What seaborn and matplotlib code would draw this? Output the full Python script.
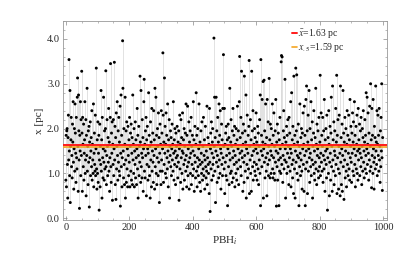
import numpy as np
import pandas as pd
import matplotlib
matplotlib.use("Agg")
import matplotlib.pyplot as plt
import seaborn as sns
from matplotlib.ticker import MultipleLocator


# DATA
# distance x [pc] for each PBH (rows of 50)
dist_pc = [
    0.85, 1.85, 0.70, 1.95, 2.00, 1.20, 0.45, 1.80, 2.30, 1.30, 3.54, 1.50, 0.95, 2.85, 0.35, 1.60, 1.75, 2.25, 1.15, 1.40, 0.90, 2.10, 1.70, 2.60, 1.25, 0.65, 1.55, 2.00, 1.05, 2.55, 1.90, 1.45, 0.80, 2.25, 1.35, 1.10, 2.70, 3.13, 1.60, 0.60, 2.75, 1.95, 1.30, 0.22, 1.85, 1.50, 2.60, 0.95, 2.20, 1.40,
    3.28, 1.90, 0.60, 2.25, 1.65, 1.15, 2.10, 0.85, 1.45, 1.75, 2.60, 1.00, 1.30, 2.20, 0.50, 1.85, 1.40, 2.90, 1.05, 1.60, 0.75, 1.95, 1.25, 2.05, 0.25, 1.70, 1.35, 2.15, 0.95, 1.50, 1.80, 1.15, 2.40, 0.85, 1.65, 1.30, 1.00, 2.55, 0.70, 1.45, 1.90, 1.20, 1.05, 2.30, 0.95, 1.55, 3.35, 1.10, 0.65, 1.75,
    1.00, 2.15, 0.80, 1.45, 1.85, 0.18, 1.30, 2.10, 0.70, 1.60, 1.20, 2.85, 1.05, 1.75, 0.45, 2.25, 1.35, 0.90, 1.55, 2.70, 1.25, 0.85, 1.95, 1.10, 1.50, 2.00, 3.29, 1.15, 0.75, 1.40, 2.20, 1.60, 0.95, 1.80, 1.25, 2.45, 1.05, 1.70, 0.60, 1.35, 2.25, 3.45, 1.15, 0.80, 1.90, 1.45, 2.15, 0.40, 1.65, 1.20,
    2.20, 0.95, 1.55, 3.48, 1.30, 2.05, 0.75, 1.80, 0.42, 2.35, 1.10, 1.60, 2.60, 1.40, 0.85, 1.95, 1.25, 2.25, 1.05, 1.70, 0.95, 2.50, 0.27, 1.45, 2.75, 1.15, 1.85, 0.70, 1.35, 3.96, 2.90, 1.50, 0.90, 2.00, 1.20, 0.75, 1.65, 2.70, 0.45, 1.30, 1.95, 0.80, 2.15, 1.10, 1.55, 0.70, 2.05, 1.40, 0.95, 1.75,
    1.25, 2.25, 0.70, 1.60, 1.90, 1.05, 2.10, 0.85, 1.45, 1.80, 0.75, 2.75, 1.30, 1.65, 1.00, 2.00, 0.70, 1.50, 1.20, 2.15, 0.90, 1.75, 1.35, 0.75, 1.55, 2.45, 1.10, 1.85, 0.45, 1.40, 2.05, 0.95, 1.60, 1.25, 3.17, 1.70, 0.80, 2.85, 1.15, 1.45, 0.90, 2.20, 1.35, 1.80, 0.60, 1.55, 2.60, 3.10, 1.05, 1.65,
    0.90, 1.95, 1.40, 2.25, 0.50, 1.75, 1.20, 2.05, 1.55, 0.85, 1.45, 2.80, 1.15, 1.85, 0.95, 1.60, 0.45, 2.15, 1.30, 1.70, 0.70, 2.45, 1.05, 1.50, 1.90, 1.25, 0.80, 2.40, 1.40, 1.75, 0.65, 2.90, 1.15, 1.55, 2.70, 1.00, 1.85, 0.75, 1.35, 2.00, 1.60, 0.95, 2.35, 1.25, 1.80, 0.35, 1.45, 2.10, 1.05, 1.65,
    0.75, 2.40, 1.30, 1.90, 1.05, 1.55, 3.69, 2.30, 0.80, 1.70, 1.20, 3.13, 1.45, 2.05, 1.00, 1.65, 2.35, 0.90, 1.85, 1.35, 1.10, 2.55, 1.50, 0.70, 1.75, 1.25, 2.20, 0.45, 1.60, 1.40, 1.95, 1.15, 1.80, 0.95, 1.55, 2.10, 1.30, 1.65, 1.05, 2.60, 1.45, 0.85, 1.75, 1.20, 2.00, 1.50, 0.75, 1.90, 1.35, 1.60,
    1.15, 2.05, 1.40, 0.90, 1.70, 1.25, 1.95, 0.40, 1.55, 2.30, 1.10, 1.65, 0.80, 2.20, 1.35, 1.80, 1.00, 1.50, 2.35, 0.65, 1.45, 1.75, 1.20, 2.00, 0.85, 1.60, 1.30, 1.90, 1.05, 2.55, 1.40, 0.70, 1.85, 1.15, 2.50, 0.95, 1.55, 1.25, 2.15, 0.65, 1.70, 1.35, 1.95, 1.00, 1.45, 2.25, 0.75, 1.60, 1.20, 1.85,
    0.95, 1.50, 2.60, 1.10, 1.75, 0.60, 1.40, 2.05, 1.25, 0.90, 1.65, 2.80, 1.05, 1.85, 0.70, 1.35, 2.00, 1.15, 0.95, 1.55, 2.55, 1.30, 0.80, 1.70, 1.20, 0.60, 1.95, 1.45, 1.00, 2.15, 1.25, 0.85, 1.60, 1.10, 2.25, 0.95, 1.40, 1.75, 0.65, 1.30, 2.05, 1.15, 0.90, 1.50, 1.05, 2.50, 0.75, 1.35, 1.80, 1.20,
    1.00, 1.65, 0.55, 2.45, 1.25, 0.15, 1.55, 1.90, 1.10, 2.15, 0.85, 1.45, 1.70, 2.00, 1.20, 0.95, 1.35, 4.02, 1.60, 2.70, 1.05, 1.80, 0.35, 1.50, 2.70, 1.25, 1.95, 0.80, 1.40, 2.25, 1.15, 1.70, 0.90, 2.55, 1.30, 1.85, 1.00, 2.40, 1.55, 0.65, 1.45, 2.10, 1.20, 1.75, 0.95, 2.45, 1.35, 3.65, 1.60, 1.10,
    2.45, 0.55, 1.65, 1.25, 1.90, 0.95, 2.05, 1.40, 0.85, 1.75, 0.28, 1.55, 2.10, 1.15, 1.80, 0.75, 1.45, 2.90, 1.30, 1.00, 1.70, 2.20, 1.05, 1.60, 0.80, 1.95, 1.35, 2.45, 0.90, 1.50, 1.85, 1.20, 2.05, 0.70, 1.40, 1.65, 1.00, 2.00, 1.25, 0.85, 1.75, 2.50, 1.10, 1.55, 1.95, 0.75, 1.30, 2.60, 3.61, 1.45,
    1.80, 1.15, 2.25, 0.95, 3.28, 1.50, 1.35, 1.90, 0.60, 1.65, 2.10, 1.25, 0.80, 3.17, 1.40, 1.95, 1.05, 1.70, 2.75, 0.45, 1.55, 1.20, 2.30, 0.90, 1.45, 1.85, 1.10, 2.05, 3.52, 0.55, 1.60, 1.30, 2.20, 1.00, 1.75, 0.60, 3.28, 1.40, 1.95, 1.15, 2.40, 0.85, 1.50, 1.65, 1.25, 2.00, 1.05, 1.80, 0.95, 1.55,
    2.35, 1.20, 1.70, 0.85, 1.45, 2.05, 1.10, 1.90, 0.75, 1.60, 1.30, 2.20, 1.00, 2.75, 0.28, 3.54, 1.50, 1.85, 1.15, 2.65, 1.40, 1.70, 3.05, 0.45, 1.55, 3.08, 1.25, 1.95, 0.90, 1.65, 2.55, 1.35, 1.05, 1.80, 0.50, 2.65, 1.45, 1.20, 2.15, 0.95, 1.60, 3.12, 1.30, 1.75, 0.90, 2.10, 1.50, 1.00, 2.00, 1.40,
    1.65, 2.55, 1.10, 0.90, 1.85, 1.35, 2.35, 1.00, 1.60, 0.85, 1.95, 1.25, 2.65, 1.50, 0.27, 1.70, 1.15, 2.10, 0.85, 1.45, 1.90, 1.30, 0.28, 1.75, 1.05, 2.25, 1.55, 1.35, 1.00, 3.49, 3.63, 1.20, 3.60, 1.65, 0.80, 1.40, 1.95, 2.40, 1.10, 1.80, 1.30, 3.10, 1.55, 0.45, 1.70, 1.25, 2.05, 1.00, 1.85, 1.45,
    2.20, 1.15, 1.60, 0.75, 2.25, 1.35, 1.90, 1.05, 1.55, 2.60, 0.70, 1.45, 2.80, 1.20, 1.75, 0.90, 2.05, 1.30, 0.55, 3.17, 1.65, 1.10, 1.85, 0.45, 1.50, 3.35, 1.25, 1.95, 3.20, 1.00, 1.40, 1.70, 0.85, 2.10, 1.35, 0.28, 1.60, 1.15, 2.55, 1.45, 0.95, 1.80, 1.30, 2.00, 1.05, 0.65, 1.90, 1.55, 2.35, 1.20,
    1.65, 0.60, 2.50, 1.40, 1.85, 0.28, 1.10, 2.65, 1.50, 2.95, 1.25, 1.95, 0.55, 1.70, 2.30, 1.05, 1.55, 2.85, 1.35, 0.80, 2.00, 1.45, 1.15, 2.60, 0.95, 1.75, 1.30, 2.15, 0.45, 1.60, 1.20, 1.90, 2.40, 1.00, 1.50, 0.85, 1.80, 1.25, 2.90, 1.10, 1.65, 0.75, 2.10, 1.40, 1.55, 1.95, 1.05, 0.90, 2.25, 1.35,
    1.15, 1.70, 3.19, 0.95, 1.45, 2.35, 1.25, 1.85, 1.05, 1.60, 2.25, 0.80, 1.40, 1.95, 1.10, 2.65, 1.30, 0.60, 1.75, 1.50, 2.00, 1.20, 0.90, 2.30, 1.55, 0.18, 1.35, 1.80, 1.00, 2.40, 1.65, 0.50, 1.25, 2.05, 1.45, 0.85, 1.90, 2.70, 1.15, 1.60, 0.60, 2.95, 1.30, 1.75, 1.05, 2.15, 0.75, 1.50, 1.95, 1.40,
    0.95, 2.45, 1.20, 1.70, 3.19, 0.55, 1.85, 1.35, 2.20, 1.10, 0.65, 1.60, 2.30, 1.00, 1.45, 0.50, 2.95, 1.25, 1.80, 0.75, 1.55, 2.10, 0.60, 1.40, 2.85, 1.15, 1.90, 0.42, 1.70, 1.30, 2.25, 0.90, 1.50, 2.00, 1.05, 0.70, 1.65, 2.40, 1.20, 1.85, 0.95, 1.45, 2.30, 1.10, 1.75, 0.85, 2.65, 1.35, 1.60, 2.05,
    1.25, 0.80, 1.90, 1.45, 2.35, 1.05, 1.70, 2.15, 0.95, 1.55, 2.60, 1.20, 1.85, 0.70, 1.40, 2.05, 1.10, 1.65, 2.30, 1.00, 1.50, 0.85, 2.45, 1.30, 1.75, 1.55, 2.10, 0.95, 1.45, 1.95, 1.15, 2.25, 1.35, 0.75, 1.60, 2.00, 1.05, 1.80, 2.40, 1.25, 1.50, 0.90, 1.70, 2.20, 1.10, 1.85, 1.40, 2.80, 1.00, 1.55,
    2.70, 1.20, 1.65, 2.35, 1.45, 0.85, 1.90, 1.30, 2.50, 1.05, 1.60, 3.00, 1.15, 1.75, 0.68, 2.45, 1.40, 1.85, 1.00, 2.65, 1.55, 1.25, 0.65, 2.05, 1.35, 1.80, 1.10, 2.95, 1.50, 1.70, 1.20, 2.40, 0.95, 1.65, 2.30, 1.40, 1.85, 1.05, 2.45, 1.30, 1.60, 0.80, 1.95, 1.15, 2.25, 1.50, 3.00, 1.35, 0.62, 1.80,
]
mean_pc = 1.63
median_pc = 1.59

df = pd.DataFrame({"pbh": np.arange(len(dist_pc)), "x": dist_pc})


# PLOT
sns.set_style("ticks")
plt.rcParams["font.family"] = ["Liberation Serif", "DejaVu Serif"]
plt.rcParams["mathtext.fontset"] = "stix"

fig = plt.figure(figsize=(4.15, 2.61), dpi=100)
ax = fig.add_axes([0.151, 0.157, 0.781, 0.764])

# light stems from the mean line to every point
ax.vlines(df["pbh"], mean_pc, df["x"], color="#dadada", lw=0.55, zorder=1)
sns.scatterplot(data=df, x="pbh", y="x", ax=ax, color="black", s=4.5,
                edgecolor="none", zorder=3, legend=False)

ax.axhline(median_pc, color="#f5a623", lw=1.2, zorder=4, label=r"$x_{.5}$=1.59 pc")
ax.axhline(mean_pc, color="#ff1a1a", lw=1.4, zorder=5, label=r"$\bar{x}$=1.63 pc")

ax.set_xlim(-10, 1012)
ax.set_ylim(-0.04, 4.41)
ax.xaxis.set_major_locator(MultipleLocator(200))
ax.xaxis.set_minor_locator(MultipleLocator(50))
ax.yaxis.set_major_locator(MultipleLocator(1.0))
ax.yaxis.set_minor_locator(MultipleLocator(0.2))
ax.yaxis.set_major_formatter(matplotlib.ticker.FormatStrFormatter("%.1f"))
ax.tick_params(which="both", direction="in", top=True, right=True,
               color="#888888", labelsize=7.5, pad=2)
ax.tick_params(which="major", length=3, width=0.5)
ax.tick_params(which="minor", length=1.6, width=0.4)
for s in ax.spines.values():
    s.set_color("#999999")
    s.set_linewidth(0.6)

ax.set_xlabel(r"PBH$_i$", fontsize=8, labelpad=2)
ax.set_ylabel("x [pc]", fontsize=8, labelpad=2)

handles, labels = ax.get_legend_handles_labels()
ax.legend(handles[::-1], labels[::-1], loc="upper right", bbox_to_anchor=(0.89, 1.0),
          frameon=False, fontsize=7, handlelength=0.5, handletextpad=0.1,
          labelspacing=0.1, borderaxespad=0.3)

fig.savefig("out.png", dpi=100)
